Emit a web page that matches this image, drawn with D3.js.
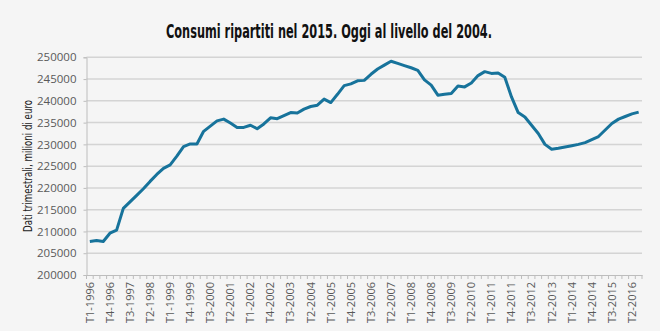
<!DOCTYPE html>
<html>
<head>
<meta charset="utf-8">
<title>Consumi ripartiti</title>
<script src="https://cdn.jsdelivr.net/npm/d3@7"></script>
<style>
  body { margin: 0; background: #f5f5f5; }
  svg { display: block; }
  .tick text { font-family: "Open Sans", sans-serif; fill: #595959; }
</style>
</head>
<body>
<script>
// dati trimestrali, milioni di euro (T1-1996 .. T3-2016)
var startYear = 1996;
var consumi = [
  207700, 207900, 207700, 209600, 210300, 215300, 216800, 218300, 219800, 221500,
  223100, 224500, 225300, 227300, 229500, 230100, 230100, 233000, 234200, 235400,
  235800, 234900, 233900, 233900, 234400, 233600, 234700, 236100, 235900, 236600,
  237300, 237200, 238100, 238700, 239000, 240400, 239600, 241500, 243500, 243900,
  244600, 244700, 246100, 247300, 248200, 249100, 248600, 248100, 247600, 247000,
  244800, 243600, 241300, 241500, 241700, 243400, 243200, 244100, 245800, 246700,
  246300, 246400, 245400, 240900, 237300, 236300, 234400, 232500, 230000, 228900,
  229100, 229400, 229700, 230000, 230400, 231100, 231800, 233300, 234800, 235800,
  236400, 237000, 237400
];
var quarters = consumi.map(function(d, i) {
  return "T" + (i % 4 + 1) + "-" + (startYear + Math.floor(i / 4));
});
var yTicks = [200000, 205000, 210000, 215000, 220000, 225000, 230000, 235000, 240000, 245000, 250000];
var title = "Consumi ripartiti nel 2015. Oggi al livello del 2004.";
var yTitle = "Dati trimestrali, milioni di euro";

var W = 660, H = 331;
var m = { left: 86.5, right: 642, top: 57.3, bottom: 275 };

var svg = d3.select("body").append("svg").attr("width", W).attr("height", H);
svg.append("rect").attr("width", W).attr("height", H).attr("fill", "#f5f5f5");

var x = d3.scaleBand().domain(quarters).range([m.left, m.right]).padding(0);
var y = d3.scaleLinear().domain([200000, 250000]).range([m.bottom, m.top]);

var narrow = "'Liberation Sans Narrow', 'DejaVu Sans Condensed', 'Roboto', sans-serif";

// title
svg.append("text")
  .attr("x", 166).attr("y", 38)
  .attr("textLength", 326)
  .attr("lengthAdjust", "spacingAndGlyphs")
  .style("font-family", narrow)
  .style("font-weight", "700")
  .style("font-size", "19px")
  .attr("fill", "#111")
  .text(title);

// gridlines
svg.append("g").selectAll("line")
  .data(yTicks.slice(1))
  .enter().append("line")
  .attr("x1", m.left).attr("x2", m.right)
  .attr("y1", function(d) { return y(d); })
  .attr("y2", function(d) { return y(d); })
  .attr("stroke", "#d4d4d4")
  .attr("stroke-width", 1.5);

// y axis
var yAxis = svg.append("g")
  .attr("transform", "translate(" + m.left + ",0)")
  .call(d3.axisLeft(y).tickValues(yTicks).tickSize(3).tickPadding(7).tickFormat(d3.format("d")));
yAxis.select(".domain").attr("stroke", "#bdbdbd");
yAxis.selectAll(".tick line").attr("stroke", "#bdbdbd");
yAxis.selectAll("text").style("font-size", "11.5px");

svg.append("text")
  .attr("transform", "translate(32,166) rotate(-90)")
  .attr("x", -66)
  .attr("textLength", 132)
  .attr("lengthAdjust", "spacingAndGlyphs")
  .style("font-family", narrow)
  .style("font-size", "13px")
  .attr("fill", "#222")
  .text(yTitle);

// x axis: labels every 3 quarters, ticks at every boundary
var xAxis = svg.append("g")
  .attr("transform", "translate(0," + m.bottom + ")")
  .call(d3.axisBottom(x)
    .tickValues(quarters.filter(function(d, i) { return i % 3 === 0 && i < 82; }))
    .tickSize(0).tickPadding(0));
xAxis.select(".domain").attr("stroke", "#bdbdbd");
xAxis.selectAll("text")
  .style("font-size", "11px")
  .attr("text-anchor", "end")
  .attr("dy", "0.35em")
  .attr("transform", "translate(0,7) rotate(-90)")
  .attr("x", 0).attr("y", 0);

svg.append("g").selectAll("line")
  .data(d3.range(quarters.length + 1))
  .enter().append("line")
  .attr("x1", function(i) { return m.left + i * x.bandwidth(); })
  .attr("x2", function(i) { return m.left + i * x.bandwidth(); })
  .attr("y1", m.bottom).attr("y2", m.bottom + 4)
  .attr("stroke", "#bdbdbd");

// line
var line = d3.line()
  .x(function(d, i) { return x(quarters[i]) + x.bandwidth() / 2; })
  .y(function(d) { return y(d); });

svg.append("path")
  .datum(consumi)
  .attr("d", line)
  .attr("fill", "none")
  .attr("stroke", "#17739b")
  .attr("stroke-width", 3)
  .attr("stroke-linejoin", "round");
</script>
</body>
</html>
